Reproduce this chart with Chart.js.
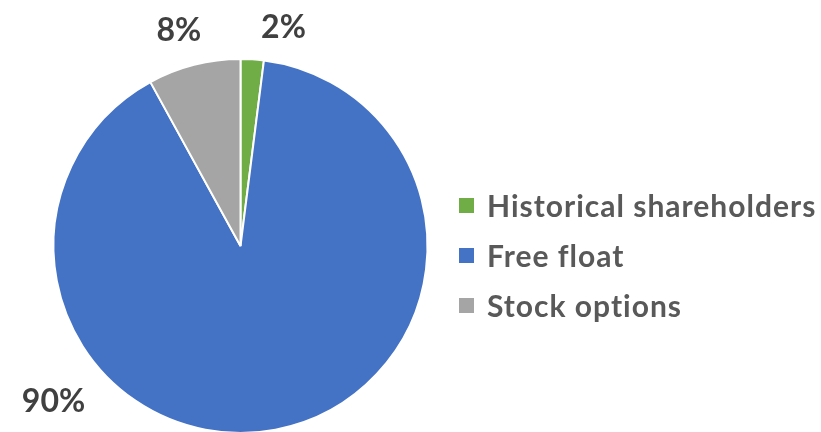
<!DOCTYPE html>
<html>
<head>
<meta charset="utf-8">
<script src="https://cdn.jsdelivr.net/npm/chart.js@4.4.1/dist/chart.umd.min.js"></script>
<style>
  html, body { margin: 0; padding: 0; background: #fff; overflow: hidden; }
  #wrap { position: relative; width: 821px; height: 432px; overflow: hidden; }
  #box { position: absolute; left: 0; top: 0; width: 821px; height: 480px; }
  #legend { position: absolute; left: 459px; top: 180px; font-family: Lato, "Open Sans", sans-serif;
            font-weight: bold; font-size: 30px; letter-spacing: 1px; color: #595959; }
  #legend .row { display: flex; align-items: center; height: 50px; white-space: nowrap; }
  #legend .sq { width: 15px; height: 15px; margin-right: 13px; flex: none; }
</style>
</head>
<body>
<div id="wrap">
  <div id="box"><canvas id="pie"></canvas></div>
  <div id="legend"></div>
</div>
<script>
const labels = ['Historical shareholders', 'Free float', 'Stock options'];
const values = [2, 90, 8];
const colors = ['#70AD47', '#4472C4', '#A5A5A5'];

// where each percentage label sits, in units of the pie radius from its centre
const labelOffsets = [[0.23, -1.17], [-1.0, 0.83], [-0.33, -1.15]];

const pctLabels = {
  id: 'pctLabels',
  afterDatasetsDraw(chart) {
    const ctx = chart.ctx;
    const arcs = chart.getDatasetMeta(0).data;
    const total = values.reduce((a, b) => a + b, 0);
    ctx.save();
    ctx.font = 'bold 32px Lato, "Open Sans", sans-serif';
    ctx.fillStyle = '#404040';
    ctx.textAlign = 'center';
    ctx.textBaseline = 'middle';
    arcs.forEach((arc, i) => {
      const r = arc.outerRadius;
      const txt = Math.round(values[i] / total * 100) + '%';
      ctx.fillText(txt, arc.x + labelOffsets[i][0] * r, arc.y + labelOffsets[i][1] * r);
    });
    ctx.restore();
  }
};

const data = {
  labels: labels,
  datasets: [
    {
      data: values,
      backgroundColor: colors,
      borderColor: '#ffffff',
      borderWidth: 2
    }
  ]
};

const config = {
  type: 'pie',
  data: data,
  options: {
    responsive: true,
    maintainAspectRatio: false,
    animation: false,
    layout: {
      padding: { top: 58, bottom: 46, left: 20, right: 360 }
    },
    plugins: {
      legend: { display: false },
      tooltip: { enabled: false }
    }
  },
  plugins: [pctLabels]
};

document.addEventListener("DOMContentLoaded", function () {
  const legend = document.getElementById('legend');
  labels.forEach((l, i) => {
    const row = document.createElement('div');
    row.className = 'row';
    row.innerHTML = '<span class="sq" style="background:' + colors[i] + '"></span>' + l;
    legend.appendChild(row);
  });

  const canvaPie = document.getElementById("pie").getContext("2d");
  const chart1 = new Chart(canvaPie, config);
});
</script>
</body>
</html>
